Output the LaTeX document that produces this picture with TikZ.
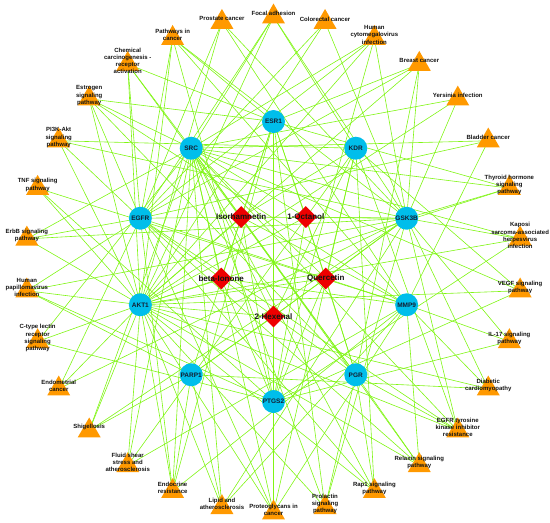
\documentclass[tikz,border=0pt]{standalone}
\usepackage{fontspec}
\setmainfont{Liberation Sans}
\usetikzlibrary{shapes.geometric,backgrounds}
\definecolor{tcyan}{RGB}{0,190,235}
\definecolor{cred}{RGB}{238,0,0}
\definecolor{orng}{RGB}{255,153,0}
\definecolor{lgreen}{RGB}{128,245,20}
\definecolor{txt}{RGB}{20,20,20}
\definecolor{ttxt}{RGB}{20,30,50}
\tikzset{
  tgt/.style={circle, fill=tcyan, minimum size=23pt, inner sep=0pt, text=ttxt, font=\fontsize{6.5}{7}\selectfont\bfseries},
  cmp/.style={diamond, fill=cred, minimum width=22pt, minimum height=22pt, inner sep=0pt},
  clab/.style={inner sep=0pt, text=txt, font=\fontsize{8}{9}\selectfont\bfseries},
  tri/.style={regular polygon, regular polygon sides=3, fill=orng, minimum size=26.5pt, inner sep=0pt},
  plab/.style={inner sep=0pt, align=center, text=txt, font=\fontsize{6}{7.2}\selectfont\bfseries},
  edge/.style={draw=lgreen, line width=0.6pt}
}
\newcommand{\pw}[3]{%
  \node[tri] (#1) at ({273.5+248*cos(#2)},{261.5-248*sin(#2)+3.3}) {};
  \node[plab] (#1l) at ({273.5+248*cos(#2)},{261.5-248*sin(#2)}) {#3};
}
\newcommand{\tg}[3]{%
  \node[tgt] (#1) at ({273.5+140*cos(#2)},{261.5-140*sin(#2)}) {#3};
}
\newcommand{\cp}[3]{%
  \node[cmp] (#1) at ({273.5+55*cos(#2)},{261.5-55*sin(#2)}) {};
  \node[clab] (#1l) at ({273.5+55*cos(#2)},{261.5-55*sin(#2)}) {#3};
}
\begin{document}
\begin{tikzpicture}[x=1pt,y=-1pt]
\useasboundingbox (0,0) rectangle (550,523);
% pathways
\pw{foc}{90}{Focal adhesion}
\pw{col}{78}{Colorectal cancer}
\pw{hcm}{66}{Human\\cytomegalovirus\\infection}
\pw{bre}{54}{Breast cancer}
\pw{yer}{42}{Yersinia infection}
\pw{bla}{30}{Bladder cancer}
\pw{thy}{18}{Thyroid hormone\\signaling\\pathway}
\pw{kap}{6}{Kaposi\\sarcoma-associated\\herpesvirus\\infection}
\pw{veg}{-6}{VEGF signaling\\pathway}
\pw{il}{-18}{IL-17 signaling\\pathway}
\pw{dia}{-30}{Diabetic\\cardiomyopathy}
\pw{tki}{-42}{EGFR tyrosine\\kinase inhibitor\\resistance}
\pw{rel}{-54}{Relaxin signaling\\pathway}
\pw{rap}{-66}{Rap1 signaling\\pathway}
\pw{prl}{-78}{Prolactin\\signaling\\pathway}
\pw{prg}{-90}{Proteoglycans in\\cancer}
\pw{lip}{-102}{Lipid and\\atherosclerosis}
\pw{enr}{-114}{Endocrine\\resistance}
\pw{flu}{-126}{Fluid shear\\stress and\\atherosclerosis}
\pw{shi}{-138}{Shigellosis}
\pw{enc}{-150}{Endometrial\\cancer}
\pw{ctl}{-162}{C-type lectin\\receptor\\signaling\\pathway}
\pw{hpv}{-174}{Human\\papillomavirus\\infection}
\pw{erb}{174}{ErbB signaling\\pathway}
\pw{tnf}{162}{TNF signaling\\pathway}
\pw{pit}{150}{PI3K-Akt\\signaling\\pathway}
\pw{est}{138}{Estrogen\\signaling\\pathway}
\pw{che}{126}{Chemical\\carcinogenesis -\\receptor\\activation}
\pw{pic}{114}{Pathways in\\cancer}
\pw{pro}{102}{Prostate cancer}
% targets
\tg{esr}{90}{ESR1}
\tg{kdr}{54}{KDR}
\tg{gsk}{18}{GSK3B}
\tg{mmp}{-18}{MMP9}
\tg{pgr}{-54}{PGR}
\tg{ptgs}{-90}{PTGS2}
\tg{parp}{-126}{PARP1}
\tg{akt}{-162}{AKT1}
\tg{egfr}{162}{EGFR}
\tg{src}{126}{SRC}
% compounds
\cp{oct}{54}{1-Octanol}
\cp{iso}{126}{Isorhamnetin}
\cp{ion}{198}{beta-Ionone}
\cp{hex}{270}{2-Hexenal}
\cp{que}{342}{Quercetin}
\begin{pgfonlayer}{background}
\foreach \a/\b in {
 pro/akt,pro/egfr,pro/gsk,pro/mmp,
 foc/akt,foc/egfr,foc/gsk,foc/kdr,foc/src,
 col/akt,col/egfr,col/gsk,
 hcm/akt,hcm/egfr,hcm/gsk,hcm/ptgs,hcm/src,
 bre/akt,bre/egfr,bre/esr,bre/gsk,bre/pgr,
 yer/akt,yer/gsk,yer/src,
 bla/egfr,bla/mmp,bla/src,
 thy/akt,thy/esr,thy/gsk,thy/src,
 kap/akt,kap/gsk,kap/ptgs,kap/src,
 veg/akt,veg/kdr,veg/ptgs,veg/src,
 il/gsk,il/mmp,il/ptgs,
 dia/akt,dia/gsk,dia/mmp,dia/parp,
 tki/akt,tki/egfr,tki/gsk,tki/kdr,tki/src,tki/pgr,
 rel/akt,rel/egfr,rel/mmp,rel/src,rel/pgr,
 rap/akt,rap/egfr,rap/kdr,rap/src,rap/pgr,
 prl/akt,prl/esr,prl/gsk,prl/src,prl/pgr,
 prg/akt,prg/egfr,prg/esr,prg/kdr,prg/mmp,prg/src,
 lip/akt,lip/gsk,lip/mmp,lip/src,lip/parp,
 enr/akt,enr/egfr,enr/esr,enr/mmp,enr/src,enr/parp,
 flu/akt,flu/kdr,flu/mmp,flu/src,
 shi/akt,shi/gsk,shi/src,shi/parp,
 enc/akt,enc/egfr,enc/gsk,
 ctl/akt,ctl/ptgs,ctl/src,
 hpv/akt,hpv/egfr,hpv/gsk,hpv/ptgs,hpv/parp,
 erb/akt,erb/egfr,erb/gsk,erb/src,
 tnf/akt,tnf/mmp,tnf/ptgs,
 pit/akt,pit/egfr,pit/gsk,pit/kdr,
 est/akt,est/egfr,est/esr,est/mmp,est/pgr,est/src,
 che/akt,che/egfr,che/esr,che/pgr,che/src,
 pic/akt,pic/egfr,pic/esr,pic/gsk,pic/mmp,pic/ptgs,
 que/esr,que/src,que/kdr,que/egfr,que/gsk,que/akt,que/mmp,que/parp,que/pgr,que/ptgs,
 iso/esr,iso/src,iso/kdr,iso/egfr,iso/gsk,iso/akt,iso/mmp,iso/parp,iso/pgr,iso/ptgs,
 oct/esr,oct/src,oct/gsk,oct/akt,oct/pgr,oct/ptgs,
 ion/esr,ion/egfr,ion/akt,ion/mmp,ion/ptgs,ion/pgr,ion/src,
 hex/src,hex/kdr,hex/akt,hex/parp,hex/gsk,hex/esr}
 \draw[edge] (\a.center) -- (\b.center);
\end{pgfonlayer}
\end{tikzpicture}
\end{document}
